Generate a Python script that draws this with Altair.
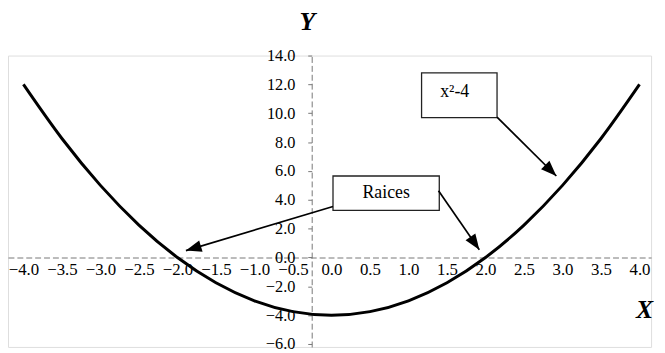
import math
import altair as alt
import pandas as pd

# ---- data ----
curve_x = [-4.0, -3.5, -3.0, -2.5, -2.0, -1.5, -1.0, -0.5, 0.0, 0.5, 1.0, 1.5, 2.0, 2.5, 3.0, 3.5, 4.0]
curve_y = [12.0, 8.25, 5.0, 2.25, 0.0, -1.75, -3.0, -3.75, -4.0, -3.75, -3.0, -1.75, 0.0, 2.25, 5.0, 8.25, 12.0]

x_ticks = [-4.0, -3.5, -3.0, -2.5, -2.0, -1.5, -1.0, -0.5, 0.0, 0.5, 1.0, 1.5, 2.0, 2.5, 3.0, 3.5, 4.0]
y_ticks = [-6.0, -4.0, -2.0, 0.0, 2.0, 4.0, 6.0, 8.0, 10.0, 12.0, 14.0]

box_text = ["x²-4", "Raices"]
box_left = [1.17, 0.02]
box_right = [2.15, 1.40]
box_top = [12.8, 5.65]
box_bottom = [9.7, 3.27]
text_x = [1.60, 0.71]
text_y = [11.5, 4.45]

arrow_x1 = [2.15, 0.02, 1.39]
arrow_y1 = [9.73, 3.54, 4.63]
arrow_x2 = [2.92, -1.89, 1.92]
arrow_y2 = [5.65, 0.48, 0.54]

# ---- layout ----
X_DOMAIN = [-4.2, 4.15]
Y_DOMAIN = [-6.2, 14.0]
W, H = 651, 295
PX_X = W / (X_DOMAIN[1] - X_DOMAIN[0])
PX_Y = H / (Y_DOMAIN[1] - Y_DOMAIN[0])

curve_df = pd.DataFrame({"x": curve_x, "y": curve_y})
box_df = pd.DataFrame({"label": box_text, "x": box_left, "xe": box_right,
                       "y": box_top, "ye": box_bottom, "tx": text_x, "ty": text_y})
angles = []
for a, b, c, d in zip(arrow_x1, arrow_y1, arrow_x2, arrow_y2):
    dx = (c - a) * PX_X
    dy = -(d - b) * PX_Y
    angles.append(math.degrees(math.atan2(dx, -dy)) % 360)
arrow_df = pd.DataFrame({"x": arrow_x1, "y": arrow_y1, "xe": arrow_x2, "ye": arrow_y2, "angle": angles})

xscale = alt.Scale(domain=X_DOMAIN, nice=False, zero=False)
yscale = alt.Scale(domain=Y_DOMAIN, nice=False, zero=False)

serif = "'Liberation Serif', 'Times New Roman', Times, serif"
zero_y_px = (Y_DOMAIN[1] - 0) * PX_Y
zero_x_px = (0 - X_DOMAIN[0]) * PX_X

xaxis = alt.Axis(
    values=x_ticks, format=".1f", orient="bottom", offset=-(H - zero_y_px),
    grid=False, ticks=False, labelPadding=4, labelFont=serif, labelFontSize=17,
    labelColor="black", labelOverlap=False, labelFlush=False, labelBound=False,
    domainColor="#777", domainDash=[6, 3], domainWidth=1,
    title="X", titleFont=serif, titleFontSize=26, titleFontWeight="bold",
    titleFontStyle="italic", titleColor="black", titleAngle=0,
    titleX=644, titleY=53, titleAlign="center", titleBaseline="middle",
)
yaxis = alt.Axis(
    values=y_ticks, format=".1f", orient="left", offset=-(zero_x_px - 20),
    grid=False, tickSize=4, tickColor="#777", labelPadding=13, labelFont=serif,
    labelFontSize=16.5, labelColor="black", labelOverlap=False, labelFlush=False,
    labelBound=False, domainColor="#777", domainDash=[6, 3], domainWidth=1,
    title="Y", titleFont=serif, titleFontSize=26, titleFontWeight="bold",
    titleFontStyle="italic", titleColor="black", titleAngle=0,
    titleX=-5, titleY=-34, titleAlign="center", titleBaseline="middle",
)

curve = alt.Chart(curve_df).mark_line(color="black", strokeWidth=3, interpolate="monotone").encode(
    x=alt.X("x:Q", scale=xscale, axis=xaxis),
    y=alt.Y("y:Q", scale=yscale, axis=yaxis),
)
boxes = alt.Chart(box_df).mark_rect(fill="white", stroke="#222", strokeWidth=1.3).encode(
    x=alt.X("x:Q", scale=xscale, axis=xaxis), x2="xe:Q",
    y=alt.Y("y:Q", scale=yscale, axis=yaxis), y2="ye:Q",
)
texts = alt.Chart(box_df).mark_text(font=serif, fontSize=18, color="black").encode(
    x=alt.X("tx:Q", scale=xscale, axis=xaxis),
    y=alt.Y("ty:Q", scale=yscale, axis=yaxis),
    text="label:N",
)
shafts = alt.Chart(arrow_df).mark_rule(color="black", strokeWidth=1.7).encode(
    x=alt.X("x:Q", scale=xscale, axis=xaxis), x2="xe:Q",
    y=alt.Y("y:Q", scale=yscale, axis=yaxis), y2="ye:Q",
)
heads = alt.Chart(arrow_df).mark_point(
    shape="M0,0 L-0.38,1 L0.38,1 Z", filled=True, color="black", opacity=1, size=1000
).encode(
    x=alt.X("xe:Q", scale=xscale, axis=xaxis),
    y=alt.Y("ye:Q", scale=yscale, axis=yaxis),
    angle=alt.Angle("angle:Q", scale=None),
)

chart = alt.layer(curve, boxes, texts, shafts, heads).properties(
    width=W, height=H,
    autosize=alt.AutoSizeParams(type="none"),
    padding={"left": 0, "top": 46, "right": 6, "bottom": 4},
).configure_view(stroke=None, strokeWidth=0).configure(background="white")

chart.save("out.html", embed_options={"renderer": "svg", "actions": False})
